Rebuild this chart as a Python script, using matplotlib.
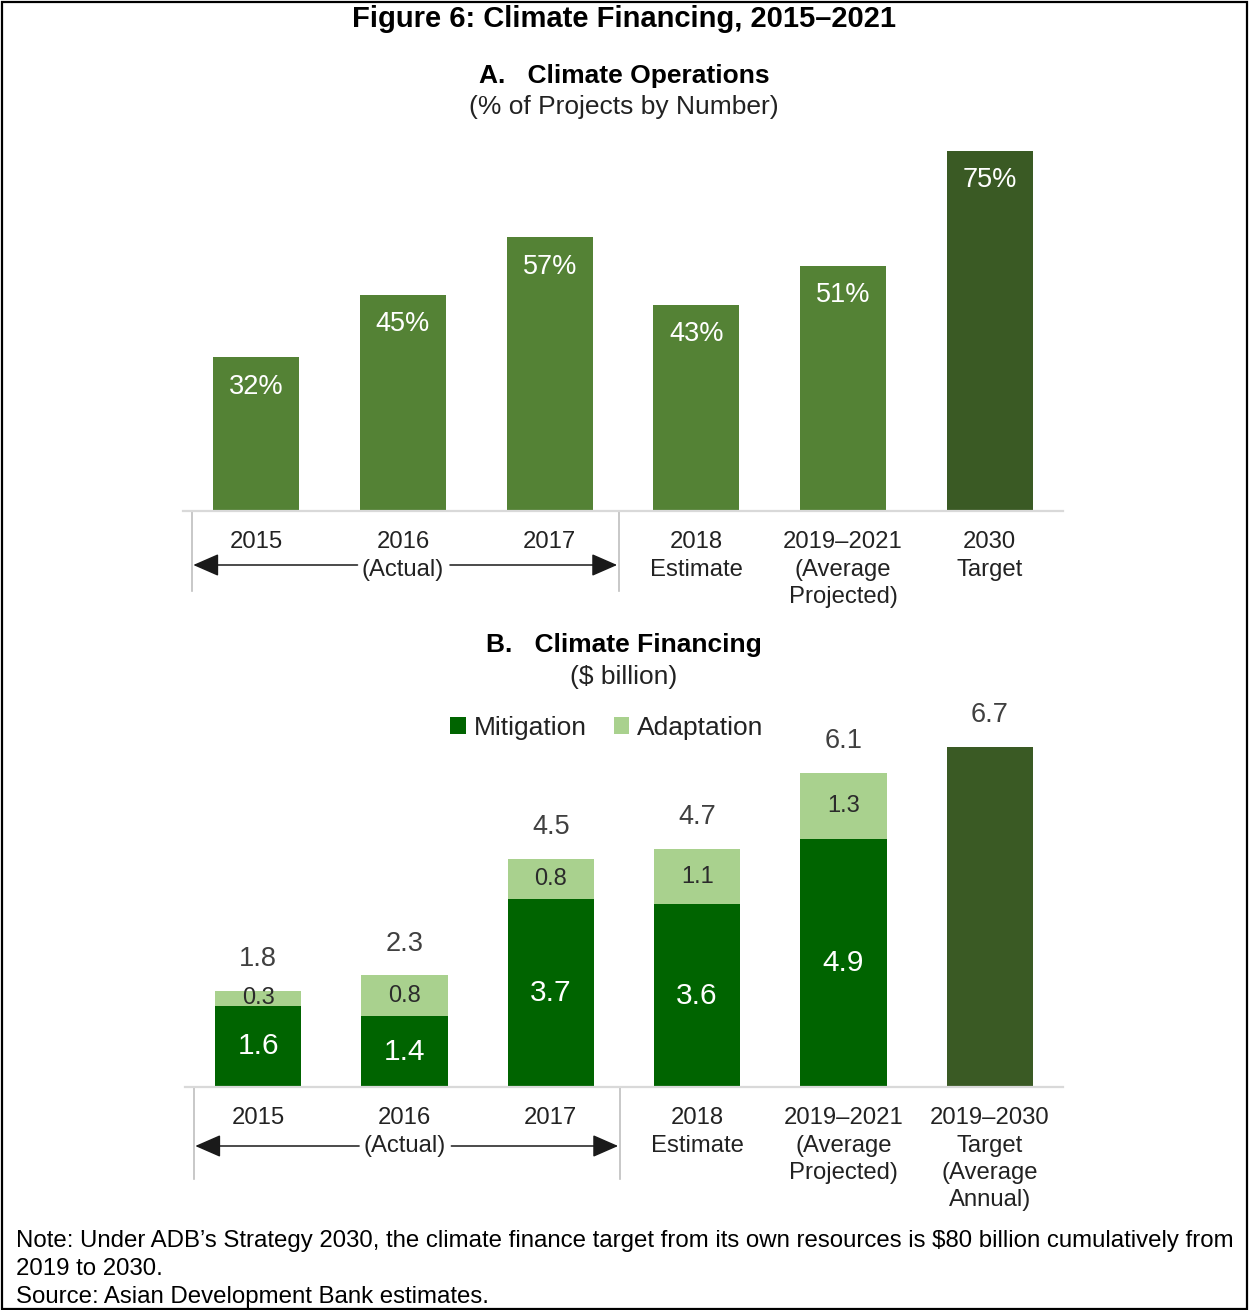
import matplotlib
matplotlib.use("Agg")
import matplotlib.pyplot as plt
from matplotlib.patches import Rectangle
from matplotlib.lines import Line2D
import matplotlib.transforms as mtransforms

plt.rcParams['font.family'] = ['Liberation Sans', 'DejaVu Sans']

# panel A data
labels_a = ["2015", "2016\n(Actual)", "2017", "2018\nEstimate",
            "2019\u20132021\n(Average\nProjected)", "2030\nTarget"]
share_a = [32, 45, 57, 43, 51, 75]

# panel B data
labels_b = ["2015", "2016\n(Actual)", "2017", "2018\nEstimate",
            "2019\u20132021\n(Average\nProjected)",
            "2019\u20132030\nTarget\n(Average\nAnnual)"]
mitigation = [1.6, 1.4, 3.7, 3.6, 4.9]
adaptation = [0.3, 0.8, 0.8, 1.1, 1.3]
target_b = [6.7]
totals_b = [1.8, 2.3, 4.5, 4.7, 6.1, 6.7]

GREEN = '#548235'
DARK = '#3A5A24'
MITI = '#006400'
ADAP = '#A9D18E'
AXIS = '#D9D9D9'
TXT = '#222222'

W, H = 1249, 1310
fig = plt.figure(figsize=(W / 100, H / 100), dpi=100)


def px(x0, y_bottom, x1, y_top):
    return [x0 / W, 1 - y_bottom / H, (x1 - x0) / W, (y_bottom - y_top) / H]


def style_axis(ax, labels):
    for s in ['top', 'right', 'left']:
        ax.spines[s].set_visible(False)
    ax.spines['bottom'].set_color(AXIS)
    ax.spines['bottom'].set_linewidth(1.6)
    ax.set_yticks([])
    ax.set_xlim(-0.5, 5.5)
    ax.set_xticks(range(6))
    ax.set_xticklabels(labels, fontsize=17.2, color=TXT, va='top',
                       linespacing=1.32)
    ax.tick_params(axis='x', length=0, pad=14.5)
    return mtransforms.blended_transform_factory(ax.transData, ax.transAxes)


def actual_marks(ax, trans, y_arrow, depth):
    # separators and the (Actual) arrows spanning 2015-2017
    for xv in [-0.44, 2.47]:
        ax.add_line(Line2D([xv, xv], [0, -depth], transform=trans,
                           color='#BFBFBF', lw=1.2, clip_on=False))
    for x_from, x_to in [(0.69, -0.43), (1.32, 2.46)]:
        ax.annotate('', xy=(x_to, y_arrow), xytext=(x_from, y_arrow),
                    xycoords=trans, textcoords=trans,
                    arrowprops=dict(arrowstyle='-|>,head_length=0.8,head_width=0.35',
                                    color='#1a1a1a', lw=1.1,
                                    mutation_scale=20, shrinkA=0, shrinkB=0),
                    annotation_clip=False)


# ---------- Panel A ----------
axa = fig.add_axes(px(183, 511, 1063, 131))
xa = list(range(6))
colors_a = [GREEN] * 5 + [DARK]
axa.bar(xa, share_a, width=0.585, color=colors_a)
axa.set_ylim(0, 380 / 4.8)
trans_a = style_axis(axa, labels_a)
actual_marks(axa, trans_a, -54 / 380, 80 / 380)
for x, v in zip(xa, share_a):
    axa.annotate(f"{v}%", (x, v), xytext=(0, -21), textcoords='offset points',
                 ha='center', va='center', color='white', fontsize=19.5)

# ---------- Panel B ----------
axb = fig.add_axes(px(185, 1087, 1063, 700))
xb = list(range(5))
axb.bar(xb, mitigation, width=0.59, color=MITI, label='Mitigation')
axb.bar(xb, adaptation, width=0.59, bottom=mitigation, color=ADAP,
        label='Adaptation')
axb.bar([5], target_b, width=0.59, color=DARK)
axb.set_ylim(0, 387 / 50.7)
trans_b = style_axis(axb, labels_b)
actual_marks(axb, trans_b, -59 / 387, 92 / 387)

for x, m, a in zip(xb, mitigation, adaptation):
    axb.text(x, m / 2, f"{m}", ha='center', va='center', color='white',
             fontsize=21.5)
    axb.text(x, m + a / 2, f"{a}", ha='center', va='center', color='#2b2b2b',
             fontsize=17)
tops = [m + a for m, a in zip(mitigation, adaptation)] + target_b
for x, t, v in zip(range(6), tops, totals_b):
    axb.annotate(f"{v}", (x, t), xytext=(0, 23), textcoords='offset points',
                 ha='center', va='center', color='#404040', fontsize=19.5)

axb.legend(loc='center', bbox_to_anchor=(607 / W, 1 - 728 / H),
           bbox_transform=fig.transFigure, ncol=2, frameon=False,
           fontsize=19, handlelength=0.6, handleheight=0.6,
           handletextpad=0.3, columnspacing=1.0, labelcolor=TXT)

# ---------- titles and notes ----------
fig.text(624 / W, 1 - 19 / H, "Figure 6: Climate Financing, 2015\u20132021",
         ha='center', va='center', fontsize=21, fontweight='bold')
fig.text(624 / W, 1 - 76 / H, "A.   Climate Operations", ha='center',
         va='center', fontsize=19, fontweight='bold')
fig.text(624 / W, 1 - 107 / H, "(% of Projects by Number)", ha='center',
         va='center', fontsize=19, color=TXT)
fig.text(624 / W, 1 - 645 / H, "B.   Climate Financing", ha='center',
         va='center', fontsize=19, fontweight='bold')
fig.text(624 / W, 1 - 677 / H, "($ billion)", ha='center', va='center',
         fontsize=19, color=TXT)

fig.text(16 / W, 1 - 1241 / H,
         "Note: Under ADB\u2019s Strategy 2030, the climate finance target from its own "
         "resources is $80 billion cumulatively from", ha='left', va='center',
         fontsize=17.3)
fig.text(16 / W, 1 - 1269 / H, "2019 to 2030.", ha='left', va='center',
         fontsize=17.3)
fig.text(16 / W, 1 - 1297 / H, "Source: Asian Development Bank estimates.",
         ha='left', va='center', fontsize=17.3)

fig.patches.append(Rectangle((1.5 / W, 1.5 / H), (W - 3.5) / W, (H - 3.5) / H,
                             transform=fig.transFigure, fill=False,
                             edgecolor='black', lw=1.6))

fig.savefig("out.png", dpi=100)
